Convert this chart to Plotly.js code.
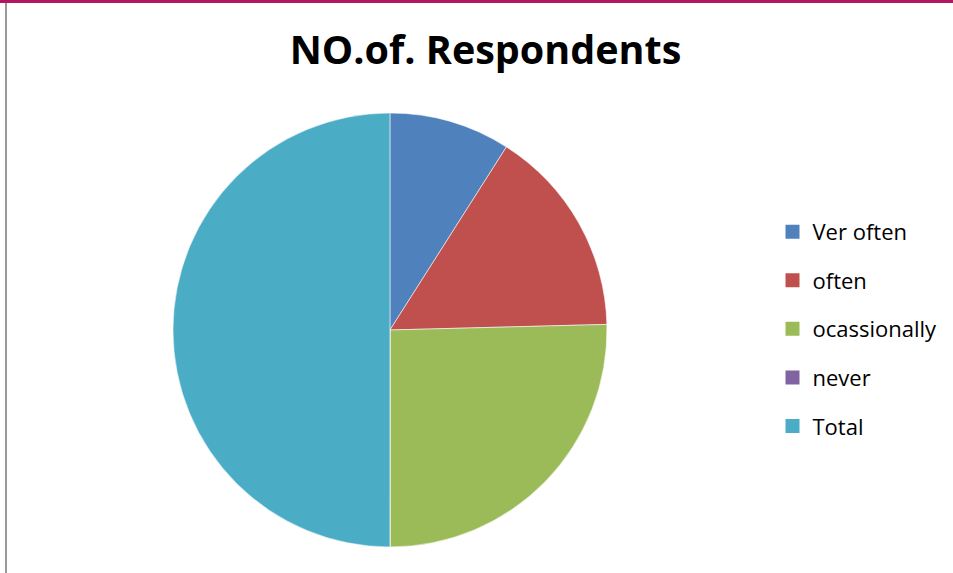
<!DOCTYPE html>
<html>
<head>
<meta charset="utf-8">
<script src="https://cdn.plot.ly/plotly-3.0.1.min.js"></script>
<style>html,body{margin:0;padding:0;background:#fff;}#chart{width:953px;height:573px;}</style>
</head>
<body>
<div id="chart"></div>
<script>
const categories = ["Ver often", "often", "ocassionally", "never", "Total"];
const respondents = [11, 19, 31, 0, 61];
const colors = ["#4F81BD", "#C0504D", "#9BBB59", "#8064A2", "#4BACC6"];
const chartTitle = "NO.of. Respondents";

const pie = {
  type: "pie",
  labels: categories,
  values: respondents,
  sort: false,
  direction: "clockwise",
  rotation: 0,
  textinfo: "none",
  hoverinfo: "label+value",
  showlegend: false,
  marker: { colors: colors, line: { color: "rgba(255,255,255,0.55)", width: 1 } },
  domain: { x: [0.1815, 0.6369], y: [0.0454, 0.8028] }
};

const legendTraces = categories.map((c, i) => ({
  type: "scatter",
  mode: "markers",
  x: [null], y: [null],
  name: c,
  legendgroup: "g" + i,
  marker: { symbol: "square", size: 14, color: colors[i] },
  hoverinfo: "skip"
}));

const layout = {
  width: 953, height: 573,
  margin: { l: 0, r: 0, t: 0, b: 0 },
  paper_bgcolor: "#fff", plot_bgcolor: "rgba(0,0,0,0)",
  title: {
    text: "<b>" + chartTitle + "</b>",
    font: { family: "'Open Sans', sans-serif", size: 39.5, color: "#000" },
    x: 0.5095, xanchor: "center", y: 0.912, yanchor: "middle", yref: "container"
  },
  xaxis: { visible: false, domain: [0.9, 0.91] },
  yaxis: { visible: false, domain: [0.9, 0.91] },
  showlegend: true,
  legend: {
    x: 0.8106, xanchor: "left", y: 0.632, yanchor: "top",
    font: { family: "'Open Sans', sans-serif", size: 22, color: "#000" },
    tracegroupgap: 17, itemwidth: 30,
    bgcolor: "rgba(0,0,0,0)"
  },
  shapes: [
    { type: "line", xref: "paper", yref: "paper", x0: 0, x1: 1, y0: 1 - 1.5/573, y1: 1 - 1.5/573,
      line: { color: "#B2165E", width: 3 } },
    { type: "line", xref: "paper", yref: "paper", x0: 6/953, x1: 6/953, y0: 0, y1: 1 - 3/573,
      line: { color: "#9A9A9A", width: 2 } }
  ]
};

Plotly.newPlot("chart", [pie].concat(legendTraces), layout, { displayModeBar: false, staticPlot: true });
</script>
</body>
</html>
